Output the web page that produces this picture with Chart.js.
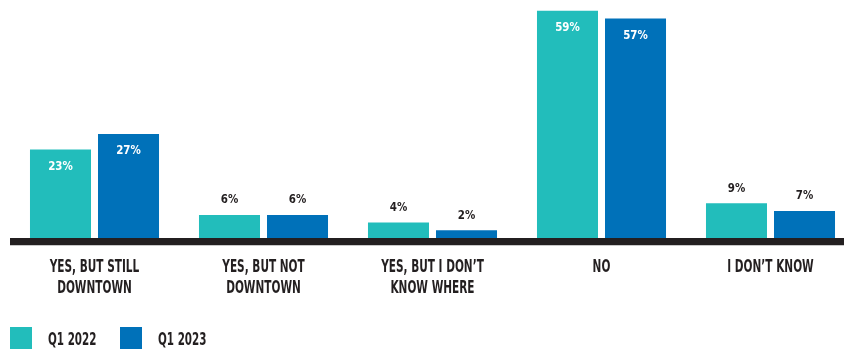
<!DOCTYPE html>
<html>
<head>
<meta charset="utf-8">
<script src="https://cdn.jsdelivr.net/npm/chart.js@4.4.0/dist/chart.umd.min.js"></script>
<style>
  html, body { margin: 0; padding: 0; background: #fff; overflow: hidden; }
  #wrap { position: relative; width: 860px; height: 351px; }
  #legend { position: absolute; left: 10px; top: 327px; display: flex; font: bold 18px 'Liberation Sans Narrow', 'DejaVu Sans Condensed', sans-serif; color: #231F20; }
  #legend .item { display: flex; align-items: center; width: 110px; height: 22px; }
  #legend .box { width: 22px; height: 22px; margin-right: 16px; flex: none; }
  #legend .txt { display: inline-block; transform: scaleX(0.64); transform-origin: left center; white-space: nowrap; }
</style>
</head>
<body>
<div id="wrap">
  <canvas id="chart"></canvas>
  <div id="legend"></div>
</div>
<script>
const categories = [
    ['YES, BUT STILL', 'DOWNTOWN'],
    ['YES, BUT NOT', 'DOWNTOWN'],
    ['YES, BUT I DON’T', 'KNOW WHERE'],
    'NO',
    'I DON’T KNOW'
];
const q1_2022 = [23, 6, 4, 59, 9];
const q1_2023 = [27, 6, 2, 57, 7];
const seriesNames = ['Q1 2022', 'Q1 2023'];
const colors = ['#22BDBB', '#0071B9'];

const labelFont = "'Liberation Sans Narrow', 'DejaVu Sans Condensed', sans-serif";
const dark = '#231F20';

// draw text squeezed horizontally (the original uses a very condensed face)
function squeezed(ctx, text, x, y, sx) {
    ctx.save();
    ctx.translate(x, y);
    ctx.scale(sx, 1);
    ctx.fillText(text, 0, 0);
    ctx.restore();
}

// thick baseline under the bars
const baseline = {
    id: 'baseline',
    afterDatasetsDraw(chart) {
        const { ctx, chartArea } = chart;
        ctx.save();
        ctx.fillStyle = dark;
        ctx.fillRect(chartArea.left, chartArea.bottom, chartArea.right - chartArea.left, 7);
        ctx.fillStyle = '#c8c8c8';
        ctx.fillRect(chartArea.left, chartArea.bottom + 7, chartArea.right - chartArea.left, 1);
        ctx.restore();
    }
};

// value labels: inside the tall bars, above the short ones
const valueLabels = {
    id: 'valueLabels',
    afterDatasetsDraw(chart) {
        const { ctx } = chart;
        ctx.save();
        ctx.font = 'bold 13px ' + labelFont;
        ctx.textAlign = 'center';
        ctx.textBaseline = 'middle';
        chart.data.datasets.forEach((ds, i) => {
            chart.getDatasetMeta(i).data.forEach((bar, j) => {
                const v = ds.data[j];
                if (v >= 20) {
                    ctx.fillStyle = '#ffffff';
                    squeezed(ctx, v + '%', bar.x, bar.y + 17, 0.88);
                } else {
                    ctx.fillStyle = dark;
                    squeezed(ctx, v + '%', bar.x, bar.y - 15, 0.88);
                }
            });
        });
        ctx.restore();
    }
};

// category labels under the baseline
const catLabels = {
    id: 'catLabels',
    afterDraw(chart) {
        const { ctx, chartArea } = chart;
        const xs = chart.scales.x;
        ctx.save();
        ctx.font = 'bold 18px ' + labelFont;
        ctx.fillStyle = dark;
        ctx.textAlign = 'center';
        ctx.textBaseline = 'middle';
        chart.data.labels.forEach((lab, i) => {
            const lines = Array.isArray(lab) ? lab : [lab];
            const x = xs.getPixelForTick(i);
            lines.forEach((line, k) => {
                squeezed(ctx, line, x, chartArea.bottom + 29 + k * 21.5, 0.65);
            });
        });
        ctx.restore();
    }
};

const ctx = document.getElementById('chart');
const chart = new Chart(ctx, {
    type: 'bar',
    data: {
        labels: categories,
        datasets: [
            { label: seriesNames[0], data: q1_2022, backgroundColor: colors[0] },
            { label: seriesNames[1], data: q1_2023, backgroundColor: colors[1] }
        ]
    },
    options: {
        responsive: true,
        maintainAspectRatio: false,
        animation: false,
        categoryPercentage: 0.805,
        barPercentage: 0.897,
        layout: {
            padding: { left: 10, right: 5, top: 7, bottom: 0 }
        },
        scales: {
            x: {
                border: { display: false },
                grid: { display: false, drawTicks: false },
                ticks: { display: false },
                afterFit(scale) { scale.height = 113; }
            },
            y: {
                display: false,
                min: 0,
                max: 60
            }
        },
        plugins: {
            legend: { display: false },
            tooltip: { enabled: false }
        }
    },
    plugins: [baseline, valueLabels, catLabels]
});

// html legend built from the datasets
const legend = document.getElementById('legend');
chart.data.datasets.forEach(ds => {
    const item = document.createElement('div');
    item.className = 'item';
    const box = document.createElement('span');
    box.className = 'box';
    box.style.background = ds.backgroundColor;
    const txt = document.createElement('span');
    txt.className = 'txt';
    txt.textContent = ds.label;
    item.appendChild(box);
    item.appendChild(txt);
    legend.appendChild(item);
});
</script>
</body>
</html>
